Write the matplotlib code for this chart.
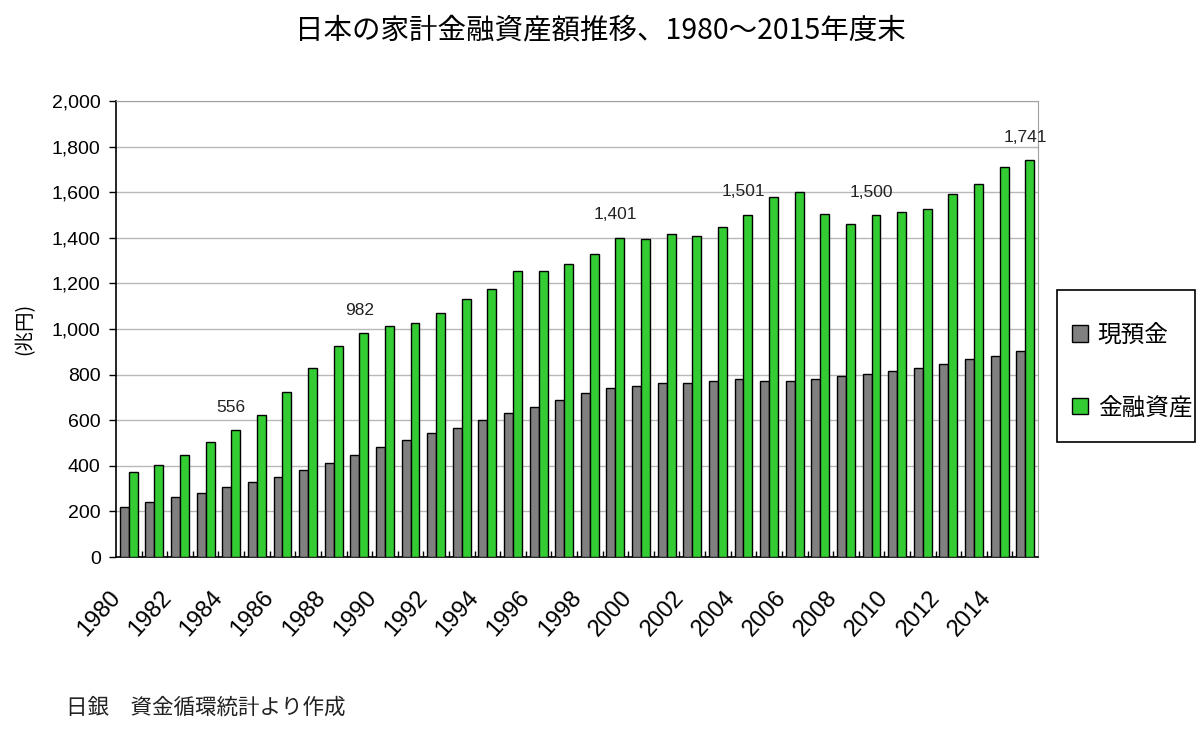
import matplotlib
matplotlib.use("Agg")
import matplotlib.pyplot as plt
from matplotlib.patches import Rectangle
from matplotlib.ticker import FuncFormatter
from matplotlib.transforms import ScaledTranslation
import numpy as np

plt.rcParams['font.family'] = ['Liberation Sans', 'Noto Sans CJK JP', 'DejaVu Sans']

# data (兆円)
years = list(range(1980, 2016))
cash = [221, 243, 265, 279, 308, 330, 352, 382, 411, 447,
        484, 513, 542, 564, 601, 630, 659, 689, 718, 740,
        750, 765, 765, 772, 779, 772, 772, 779, 794, 801,
        816, 830, 845, 867, 882, 904]
assets = [374, 404, 447, 506, 556, 623, 725, 827, 925, 982,
          1013, 1028, 1072, 1130, 1174, 1256, 1256, 1285, 1329, 1401,
          1395, 1417, 1409, 1447, 1501, 1579, 1601, 1506, 1462, 1500,
          1513, 1528, 1594, 1637, 1711, 1741]
label_years = [1984, 1989, 1999, 2004, 2009, 2015]
series_names = ['現預金', '金融資産']

title = '日本の家計金融資産額推移、1980～2015年度末'
source = '日銀　資金循環統計より作成'

fig = plt.figure(figsize=(12, 7.36), dpi=100)
ax = fig.add_axes([116/1200, 1-557/736, (1038-116)/1200, (557-101)/736])

x = np.arange(len(years))
w = 0.35
b1 = ax.bar(x - w/2, cash, w, color='#808080', edgecolor='black', linewidth=1,
            label=series_names[0], zorder=3)
b2 = ax.bar(x + w/2, assets, w, color='#33cc33', edgecolor='black', linewidth=1,
            label=series_names[1], zorder=3)

for yr in label_years:
    i = years.index(yr)
    ax.text(i, assets[i] + 100, '{:,}'.format(assets[i]), ha='center', va='center',
            fontsize=12.5, color='#222222', zorder=4)

ax.set_xlim(-0.5, len(years) - 0.5)
ax.set_ylim(0, 2000)
ax.set_yticks(range(0, 2001, 200))
ax.yaxis.set_major_formatter(FuncFormatter(lambda v, p: '{:,}'.format(int(v))))
ax.tick_params(axis='y', direction='out', length=5, width=1, pad=6, labelsize=14,
               colors='black')
ax.yaxis.grid(True, color='#b8b8b8', linewidth=1, zorder=0)
ax.set_axisbelow(True)

ax.set_xticks(x[::2])
ax.set_xticklabels([str(y) for y in years[::2]], rotation=48, ha='right', va='top',
                   fontsize=17)
ax.tick_params(axis='x', which='major', length=0, pad=21)
shift = ScaledTranslation(-4/100, 0, fig.dpi_scale_trans)
for lab in ax.get_xticklabels():
    lab.set_transform(lab.get_transform() + shift)
ax.set_xticks(x[:-1] + 0.5, minor=True)
ax.tick_params(axis='x', which='minor', direction='in', length=4, width=1, color='black')

for s in ['top', 'right']:
    ax.spines[s].set_color('#a0a0a0')
for s in ['left', 'bottom']:
    ax.spines[s].set_color('black')
    ax.spines[s].set_linewidth(1.2)

ax.set_ylabel('(兆円)', fontsize=14, family=['Noto Sans CJK JP'], labelpad=12)

fig.text(0.5, 1-30/736, title, ha='center', va='center', fontsize=20.5,
         family=['Noto Sans CJK JP'])
fig.text(66/1200, 1-708/736, source, ha='left', va='center', fontsize=15.5,
         family=['Noto Sans CJK JP'], color='#222222')

# legend with its own frame
fig.patches.append(Rectangle((1057/1200, 1-442/736), 138/1200, 152/736,
                             transform=fig.transFigure, fill=False,
                             edgecolor='black', linewidth=1.2))
leg = fig.legend(handles=[b1, b2], labels=series_names, loc='upper left',
                 bbox_to_anchor=(1060/1200, 1-312/736), frameon=False,
                 prop={'family': 'Noto Sans CJK JP', 'size': 17},
                 handlelength=0.7, handleheight=0.7, handletextpad=0.4,
                 labelspacing=2.1, borderpad=0)

fig.savefig('out.png', dpi=100)
